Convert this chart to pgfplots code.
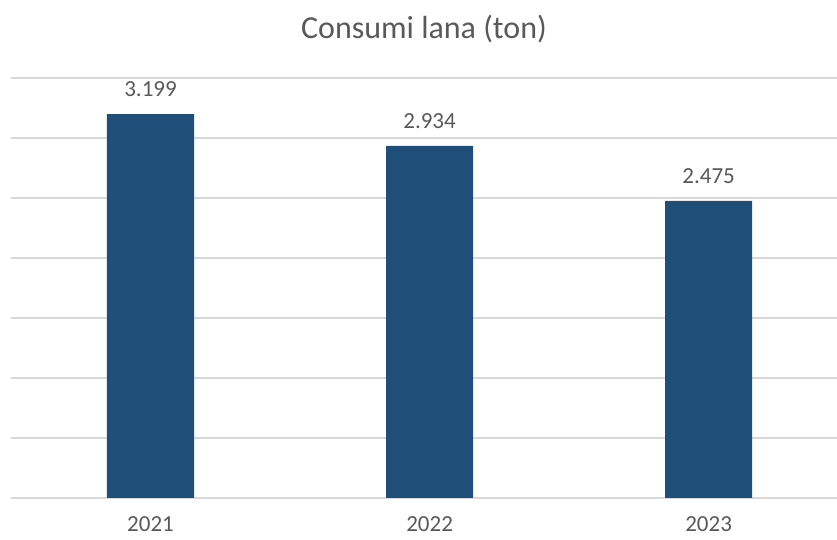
\documentclass[border=0pt]{standalone}
\usepackage{pgfplots}
\pgfplotsset{compat=1.18}
\usepackage{fontspec}
\setmainfont{Carlito}
\definecolor{barblue}{HTML}{1F4E79}
\definecolor{txtgrey}{HTML}{595959}
\definecolor{gridgrey}{HTML}{D9D9D9}
\begin{document}
\begin{tikzpicture}
\path[use as bounding box] (0,0) rectangle (837pt,540pt);
\begin{axis}[
  at={(11pt,42pt)}, anchor=south west,
  scale only axis,
  width=826pt, height=420pt,
  xmin=-0.5, xmax=2.46,
  ymin=0, ymax=3500,
  axis line style={draw=none},
  ytick={0,500,...,3500},
  yticklabels={},
  ymajorgrids,
  grid style={gridgrey, line width=1.3pt},
  major tick length=0pt,
  xtick={0,1,2},
  xticklabels={2021,2022,2023},
  xticklabel style={font=\fontsize{23}{26}\selectfont, text=txtgrey, inner sep=1pt, yshift=-17pt},
  title={Consumi lana (ton)},
  title style={font=\fontsize{32}{36}\selectfont, text=txtgrey, yshift=26pt},
  nodes near coords,
  /pgf/number format/.cd, 1000 sep={.}, assume math mode=true, /pgfplots/.cd,
  nodes near coords style={font=\fontsize{23}{26}\selectfont, text=txtgrey, yshift=14pt},
  clip=false,
]
\addplot[ybar, bar width=0.312, fill=barblue, draw=none] coordinates {(0,3199) (1,2934) (2,2475)};
\end{axis}
\end{tikzpicture}
\end{document}
